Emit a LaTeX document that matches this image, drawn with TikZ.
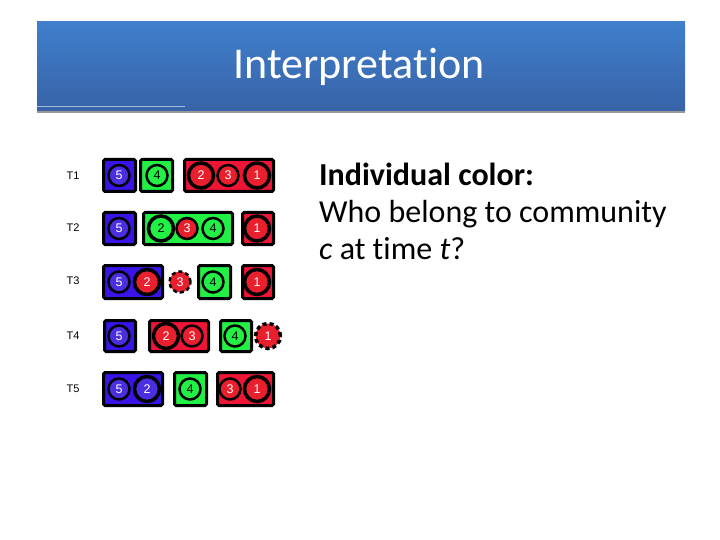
\documentclass[tikz,border=0pt]{standalone}
\usepackage{fontspec}
\setmainfont[Ligatures=NoCommon]{Carlito}
\newfontfamily\labelfont{Liberation Sans}
\usetikzlibrary{positioning}
\definecolor{HeadTop}{HTML}{3F7FCC}
\definecolor{HeadBot}{HTML}{3862A6}
\definecolor{CBlue}{HTML}{3A14E6}
\definecolor{CGreen}{HTML}{22F044}
\definecolor{CRed}{HTML}{EE1535}
\definecolor{IBlue}{HTML}{4A2EE0}
\definecolor{IRed}{HTML}{E8202E}

\tikzset{
    commbox/.style={draw=black, line width=3, rounded corners=1.5},
    indiv/.style={circle, draw=black, line width=2.5, minimum size=21, inner sep=0pt,
        font=\labelfont\fontsize{12.5}{12.5}\selectfont, text=white},
    big/.style={line width=3.5, minimum size=25},
    gone/.style={dash pattern=on 4pt off 3pt},
    tlabel/.style={font=\labelfont\fontsize{11}{11}\selectfont}
}

\begin{document}
\begin{tikzpicture}[x=1pt, y=-1pt]
    \useasboundingbox (0,0) rectangle (720,540);

    % Title bar
    \shade[top color=HeadTop, bottom color=HeadBot] (37,22) rectangle (685,112);
    \draw[gray!80, line width=1.5] (37,112) -- (685,112);
    \draw[HeadTop!50!white, line width=0.8] (37,106) -- (185,106);
    \node[text=white, font=\fontsize{44}{44}\selectfont] (title) at (359,67) {Interpretation};

    % Time step labels
    \node[tlabel] (t1) at (73,176) {T1};
    \node[tlabel] (t2) at (73,228) {T2};
    \node[tlabel] (t3) at (73,281) {T3};
    \node[tlabel] (t4) at (73,336) {T4};
    \node[tlabel] (t5) at (73,389) {T5};

    % T1 communities
    \filldraw[commbox, fill=CBlue] (103.5,159.5) rectangle (135.5,191.5);
    \filldraw[commbox, fill=CGreen] (140.5,159.5) rectangle (172.5,191.5);
    \filldraw[commbox, fill=CRed] (184.5,159.5) rectangle (273.5,191.5);
    \node[indiv, fill=IBlue] (a5) at (119,175.5) {5};
    \node[indiv, fill=CGreen, text=black] (a4) at (157,175.5) {4};
    \node[indiv, big, fill=IRed] (a2) at (201,175.5) {2};
    \node[indiv, fill=IRed] (a3) at (228,175.5) {3};
    \node[indiv, big, fill=IRed] (a1) at (257,175.5) {1};

    % T2 communities
    \filldraw[commbox, fill=CBlue] (103.5,212.5) rectangle (135.5,244.5);
    \filldraw[commbox, fill=CGreen] (143.5,212.5) rectangle (232.5,244.5);
    \filldraw[commbox, fill=CRed] (242.5,212.5) rectangle (273.5,244.5);
    \node[indiv, fill=IBlue] (b5) at (119,228.5) {5};
    \node[indiv, big, fill=CGreen, text=black] (b2) at (161,228.5) {2};
    \node[indiv, fill=IRed] (b3) at (187,228.5) {3};
    \node[indiv, fill=CGreen, text=black] (b4) at (213,228.5) {4};
    \node[indiv, big, fill=IRed] (b1) at (257,228.5) {1};

    % T3 communities, 3 on its own
    \filldraw[commbox, fill=CBlue] (103.5,265.5) rectangle (162.5,298.5);
    \filldraw[commbox, fill=CGreen] (198.5,265.5) rectangle (230.5,298.5);
    \filldraw[commbox, fill=CRed] (242.5,265.5) rectangle (273.5,298.5);
    \node[indiv, fill=IBlue] (c5) at (119,282) {5};
    \node[indiv, big, fill=IRed] (c2) at (147,282) {2};
    \node[indiv, gone, fill=IRed] (c3) at (180,282) {3};
    \node[indiv, fill=CGreen, text=black] (c4) at (213,282) {4};
    \node[indiv, big, fill=IRed] (c1) at (257,282) {1};

    % T4 communities, 1 on its own
    \filldraw[commbox, fill=CBlue] (104.5,320.5) rectangle (135.5,351.5);
    \filldraw[commbox, fill=CRed] (149.5,320.5) rectangle (208.5,351.5);
    \filldraw[commbox, fill=CGreen] (220.5,320.5) rectangle (251.5,351.5);
    \node[indiv, fill=IBlue] (d5) at (119,336) {5};
    \node[indiv, big, fill=IRed] (d2) at (166,336) {2};
    \node[indiv, fill=IRed] (d3) at (192,336) {3};
    \node[indiv, fill=CGreen, text=black] (d4) at (235,336) {4};
    \node[indiv, gone, big, fill=IRed] (d1) at (268,336) {1};

    % T5 communities
    \filldraw[commbox, fill=CBlue] (103.5,372.5) rectangle (162.5,405.5);
    \filldraw[commbox, fill=CGreen] (174.5,372.5) rectangle (206.5,405.5);
    \filldraw[commbox, fill=CRed] (217.5,372.5) rectangle (273.5,405.5);
    \node[indiv, fill=IBlue] (e5) at (119,389) {5};
    \node[indiv, big, fill=IBlue] (e2) at (147,389) {2};
    \node[indiv, fill=CGreen, text=black] (e4) at (190,389) {4};
    \node[indiv, fill=IRed] (e3) at (230,389) {3};
    \node[indiv, big, fill=IRed] (e1) at (257,389) {1};

    % Explanation
    \node[anchor=base west, align=left, font=\fontsize{32}{37}\selectfont, inner sep=0pt] (note) at (319,259)
        {\textbf{Individual color:}\\Who belong to community\\\textit{c} at time \textit{t}?};
\end{tikzpicture}
\end{document}
